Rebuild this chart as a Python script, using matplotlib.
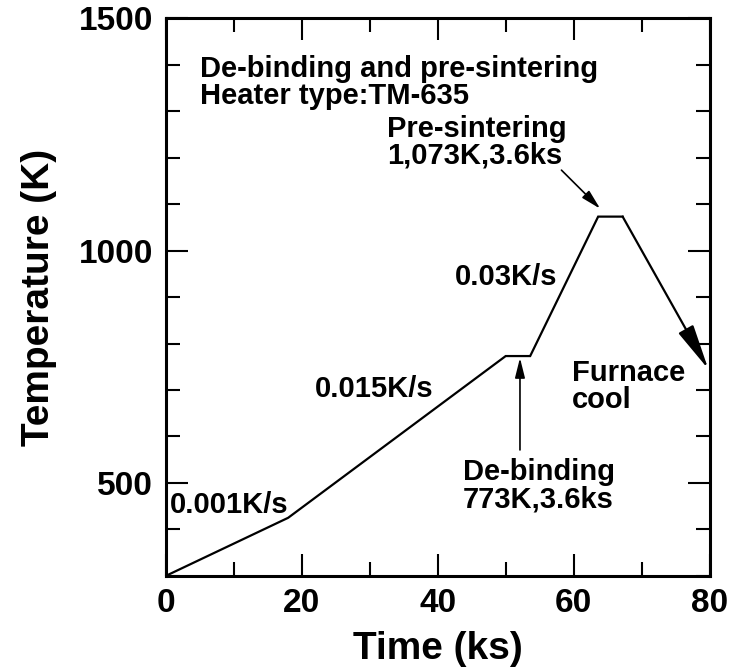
import matplotlib
matplotlib.use("Agg")
import matplotlib.pyplot as plt
from matplotlib.ticker import MultipleLocator

plt.rcParams['font.family'] = ['Liberation Sans', 'DejaVu Sans']

# heating schedule (time in ks, temperature in K)
time_ks = [0, 18, 50, 53.6, 63.6, 67.2]
temp_K = [300, 425, 773, 773, 1073, 1073]
# furnace cooling, drawn as an arrow from the end of the hold
cool_time = [67.2, 79.8]
cool_temp = [1073, 745]

x_ticks = [0, 20, 40, 60, 80]
y_ticks = [500, 1000, 1500]

fig = plt.figure(figsize=(7.4, 6.72), dpi=100)
ax = fig.add_axes([0.224, 0.143, 0.735, 0.830])

ax.plot(time_ks, temp_K, color='black', lw=1.6, solid_joinstyle='miter')
ax.annotate('', xy=(cool_time[1], cool_temp[1]), xytext=(cool_time[0], cool_temp[0]),
            arrowprops=dict(arrowstyle='-|>,head_length=1.4,head_width=0.26',
                            color='black', lw=1.6, mutation_scale=20,
                            shrinkA=0, shrinkB=0))

ax.set_xlim(0, 80)
ax.set_ylim(300, 1500)
ax.set_xticks(x_ticks)
ax.set_yticks(y_ticks)
ax.xaxis.set_minor_locator(MultipleLocator(10))
ax.yaxis.set_minor_locator(MultipleLocator(100))
ax.tick_params(which='both', direction='in', top=True, right=True, width=1.5)
ax.tick_params(which='major', length=16, labelsize=24, pad=9)
ax.tick_params(which='minor', length=10)
for lab in ax.get_xticklabels() + ax.get_yticklabels():
    lab.set_fontweight('bold')
for s in ax.spines.values():
    s.set_linewidth(2.2)

ax.set_xlabel('Time (ks)', fontsize=28, fontweight='bold', labelpad=8)
ax.set_ylabel('Temperature (K)', fontsize=28, fontweight='bold', labelpad=16)

txt = dict(fontsize=21, fontweight='bold', linespacing=0.95, color='black')
ax.text(5.0, 1362, 'De-binding and pre-sintering\nHeater type:TM-635', va='center', ha='left', **txt)
ax.text(0.6, 453, '0.001K/s', va='center', ha='left', **txt)
ax.text(22.0, 702, '0.015K/s', va='center', ha='left', **txt)
ax.text(57.6, 943, '0.03K/s', va='center', ha='right', **txt)
ax.text(59.8, 708, 'Furnace\ncool', va='center', ha='left', **txt)

ax.text(32.6, 1233, 'Pre-sintering\n1,073K,3.6ks', va='center', ha='left', **txt)
ax.annotate('', xy=(63.9, 1090), xytext=(58.2, 1173),
            arrowprops=dict(arrowstyle='-|>,head_length=0.8,head_width=0.2',
                            color='black', lw=1.2, mutation_scale=15,
                            shrinkA=0, shrinkB=0))
ax.text(43.7, 494, 'De-binding\n773K,3.6ks', va='center', ha='left', **txt)
ax.annotate('', xy=(52.1, 769), xytext=(52.1, 571),
            arrowprops=dict(arrowstyle='-|>,head_length=0.8,head_width=0.2',
                            color='black', lw=1.2, mutation_scale=15,
                            shrinkA=0, shrinkB=0))

fig.savefig('out.png', dpi=100)
